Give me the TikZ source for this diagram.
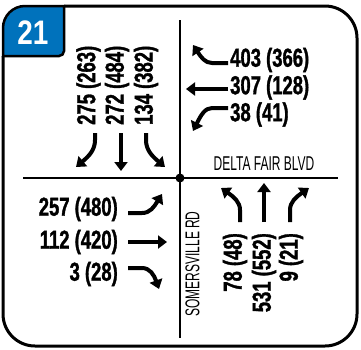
\documentclass[tikz,border=0pt]{standalone}
\usepackage{fontspec}
\usetikzlibrary{arrows.meta}
\newfontfamily\numfont[FakeStretch=0.71,FakeBold=1.2]{Liberation Sans}
\newfontfamily\lblfont[FakeStretch=0.6]{Liberation Sans}
\newfontfamily\tabfont[FakeStretch=0.82]{Liberation Sans}
\definecolor{tabblue}{RGB}{0,114,188}
\begin{document}
\begin{tikzpicture}[x=1pt,y=-1pt,
  num/.style={font=\numfont\bfseries\fontsize{26}{26}\selectfont, inner sep=0pt},
  lbl/.style={font=\lblfont\fontsize{20}{20}\selectfont, inner sep=0pt},
  mv/.style={line width=4pt, -{Triangle[length=9pt,width=13pt]}},
  road/.style={line width=2pt},
  frame/.style={line width=3pt}]
\useasboundingbox (0,0) rectangle (361,349);
% outer frame
\draw[frame, rounded corners=32pt] (64,6) -- (357,6) -- (357,346) -- (3,346) -- (3,56);
% tab
\draw[frame, fill=tabblue, line width=2.5pt] (3,56) -- (3,28) .. controls (3,15.85) and (12.85,6) .. (25,6) -- (64,6) -- (64,51) .. controls (64,53.76) and (61.76,56) .. (59,56) -- cycle;
\node[font=\tabfont\bfseries\fontsize{34}{34}\selectfont, text=white, inner sep=0pt] (tab) at (33,33) {21};
% roads
\draw[road] (180,20) -- (180,338);
\draw[road] (23,178) -- (338,178);
\fill (180,178) circle (4.5);
% street names
\node[lbl] (delta) at (264,164) {DELTA FAIR BLVD};
\node[lbl, rotate=90] (somers) at (192.5,264) {SOMERSVILLE RD};
% westbound
\node[num, anchor=west] (wbr) at (230,60) {403 (366)};
\node[num, anchor=west] (wbt) at (230,87.5) {307 (128)};
\node[num, anchor=west] (wbl) at (230,114.5) {38 (41)};
\draw[mv] (228,63) -- (212,63) .. controls (205,63) and (201,57) .. (193,45);
\draw[mv] (228,89) -- (186,89);
\draw[mv] (228,108) -- (212,108) .. controls (205,108) and (201,115) .. (193,131);
% southbound
\node[num, anchor=west, rotate=90] (sbr) at (88.5,125) {275 (263)};
\node[num, anchor=west, rotate=90] (sbt) at (117,125) {272 (484)};
\node[num, anchor=west, rotate=90] (sbl) at (146,125) {134 (382)};
\draw[mv] (95,133) -- (95,140) .. controls (95,150) and (89,156) .. (76,167);
\draw[mv] (121,133) -- (121,171);
\draw[mv] (146,133) -- (146,140) .. controls (146,150) and (152,156) .. (165,167);
% eastbound
\node[num, anchor=east] (ebl) at (118,209) {257 (480)};
\node[num, anchor=east] (ebt) at (118,242) {112 (420)};
\node[num, anchor=east] (ebr) at (118,274) {3 (28)};
\draw[mv] (128,213) -- (142,213) .. controls (150,213) and (154,207) .. (162,194);
\draw[mv] (128,242) -- (167,242);
\draw[mv] (128,268) -- (142,268) .. controls (150,268) and (154,275) .. (159,289);
% northbound
\node[num, anchor=east, rotate=90] (nbl) at (235,233) {78 (48)};
\node[num, anchor=east, rotate=90] (nbt) at (264,233) {531 (552)};
\node[num, anchor=east, rotate=90] (nbr) at (291,233) {9 (21)};
\draw[mv] (240,222) -- (240,210) .. controls (240,202) and (234,197) .. (221,188);
\draw[mv] (264,222) -- (264,183);
\draw[mv] (290,222) -- (290,210) .. controls (290,202) and (296,197) .. (309,188);
\end{tikzpicture}
\end{document}
